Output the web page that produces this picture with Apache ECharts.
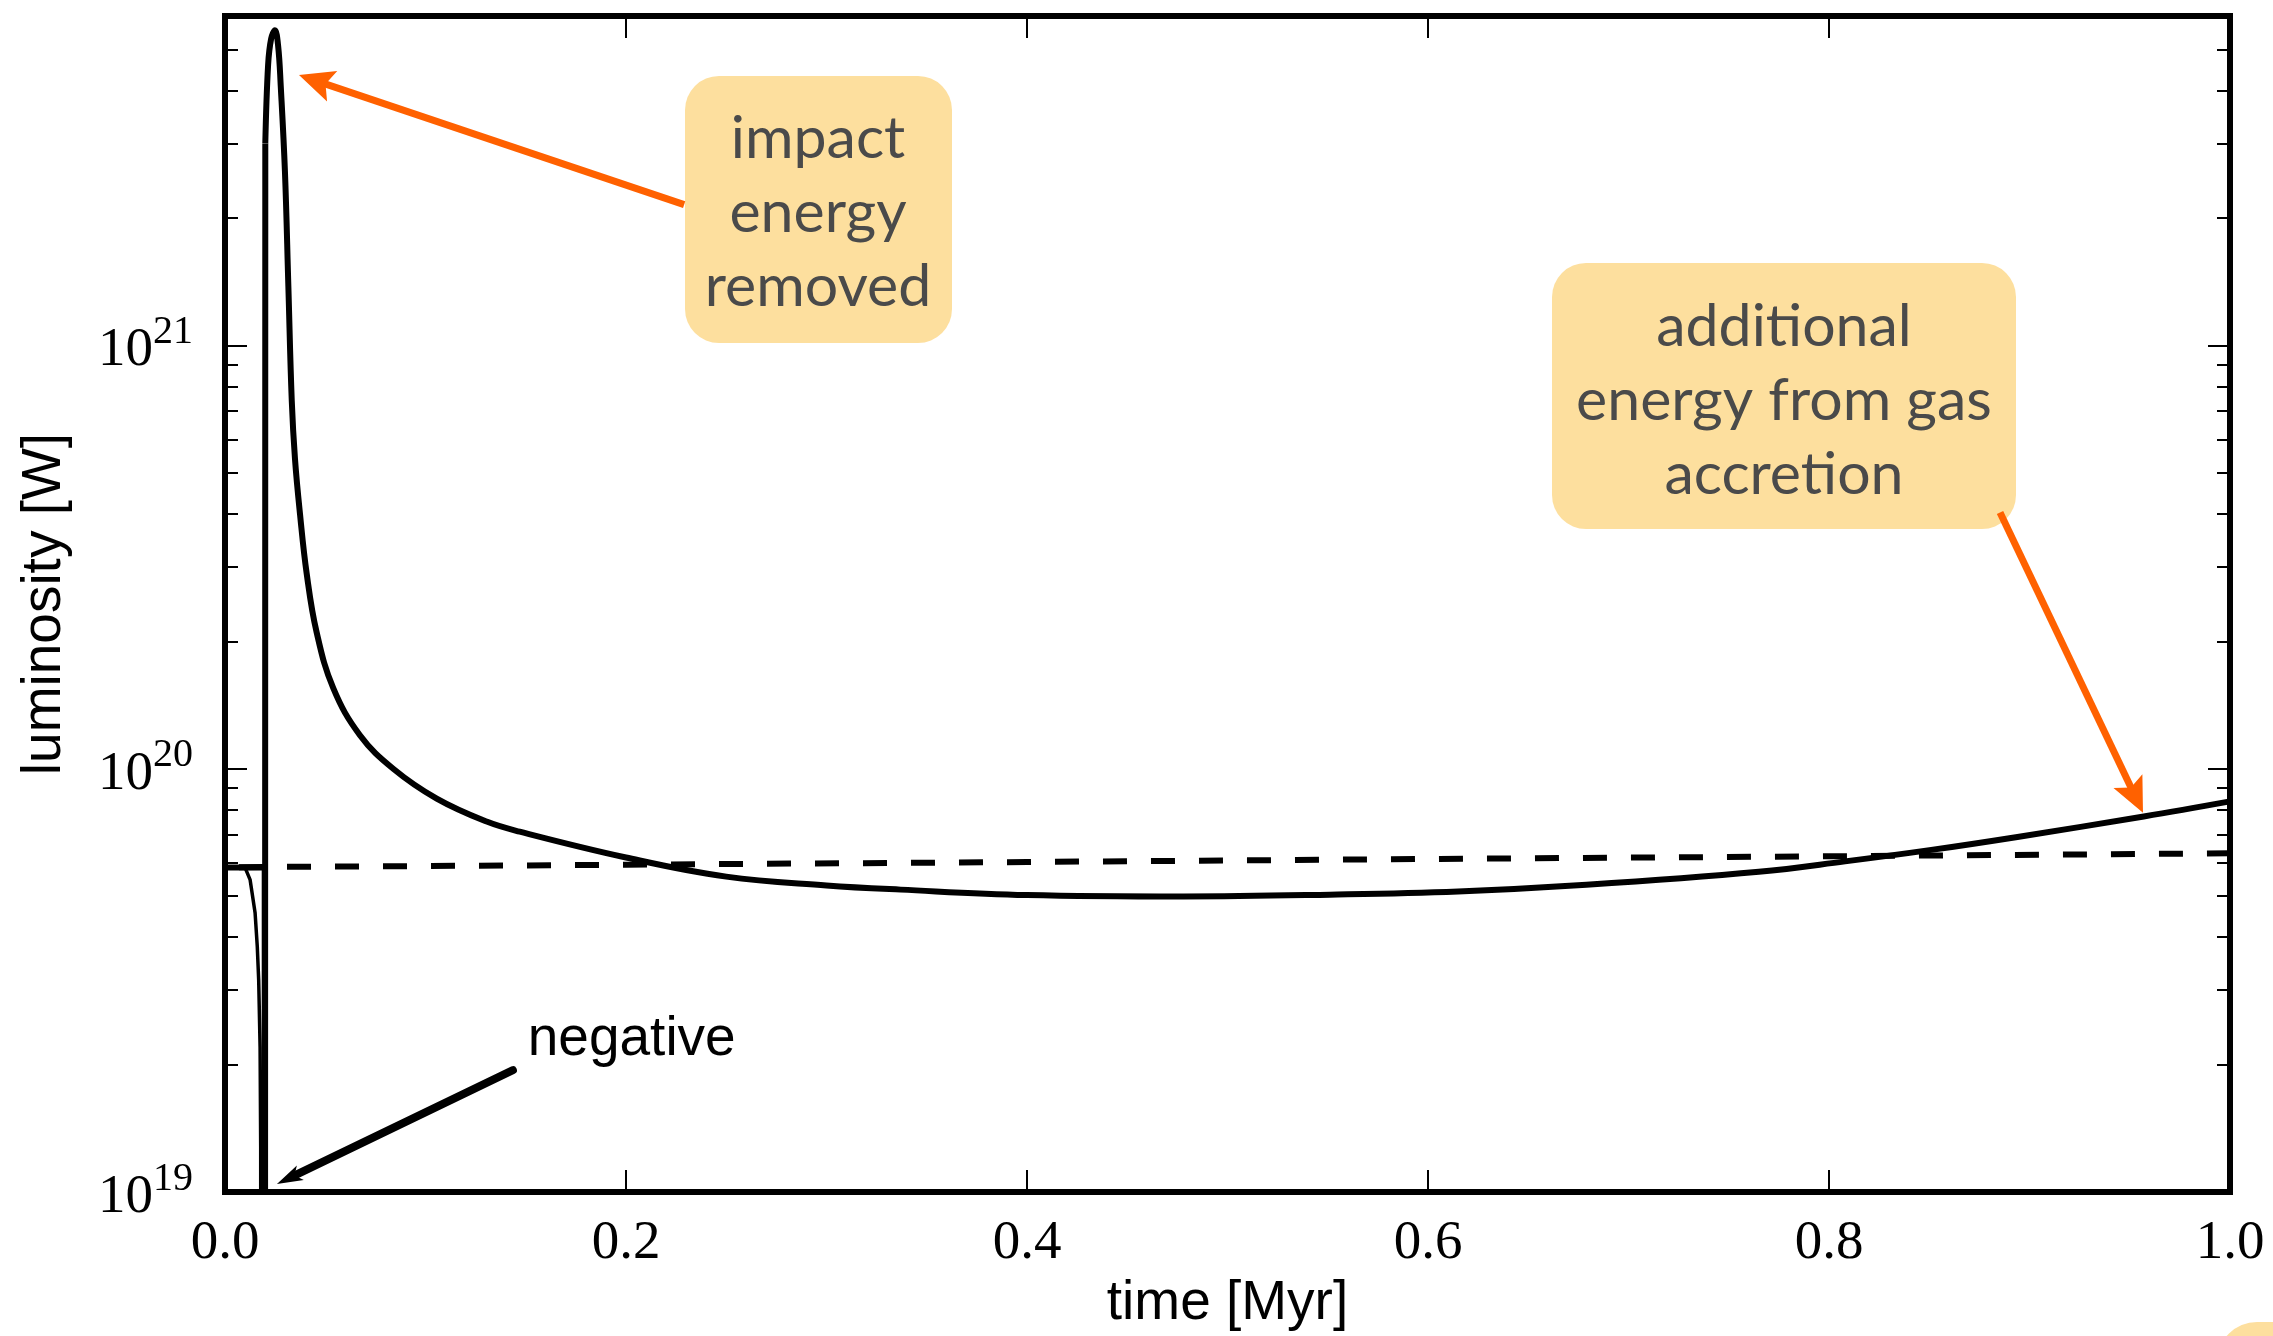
<!DOCTYPE html>
<html>
<head>
<meta charset="utf-8">
<style>
  html, body { margin: 0; padding: 0; background: #fff; }
  #chart { width: 2273px; height: 1336px; }
</style>
<script src="https://cdn.jsdelivr.net/npm/echarts@6/dist/echarts.min.js"></script>
</head>
<body>
<div id="chart"></div>
<script>
// Luminosity of the planet over the first Myr (log scale).
// Values below zero cannot be shown on a log axis; they are plotted at a
// floor under the axis minimum so the line drops off the bottom of the plot.
const NEG = 1e17;

// Main run before the impact: flat, then a dip below zero and the jump up
const tPre = [0, 0.010, 0.0198, 0.0199, 0.0201];
const lPre = [5.84e19, 5.84e19, 5.84e19, NEG, 3.0e21];

// Main run after the impact: spike, decay, then slow rise from gas accretion
const tPost = [0.0201, 0.0215, 0.0230, 0.0249, 0.0265, 0.0278,
  0.0299, 0.0316, 0.0333, 0.0349, 0.0374, 0.0407, 0.0457, 0.054, 0.0673, 0.0839,
  0.1056, 0.1305, 0.147, 0.2, 0.25, 0.3, 0.337, 0.4, 0.478, 0.551,
  0.615, 0.679, 0.765, 0.808, 0.851, 0.894, 0.957, 1.0];
const lPost = [3.0e21, 4.6e21, 5.3e21, 5.55e21, 5.1e21, 4.1e21,
  2.57e21, 1.38e21, 7.4e20, 5.4e20, 4.0e20, 2.9e20, 2.1e20, 1.55e20, 1.2e20, 1.0e20,
  8.5e19, 7.5e19, 7.1e19, 6.17e19, 5.56e19, 5.3e19, 5.18e19, 5.03e19, 4.99e19, 5.04e19,
  5.13e19, 5.32e19, 5.71e19, 6.04e19, 6.43e19, 6.90e19, 7.71e19, 8.37e19];

// Thin line: luminosity dropping below zero just before the impact
const tThin = [0, 0.0100, 0.0125, 0.0150, 0.0161, 0.0168, 0.0175, 0.0178, 0.0180];
const lThin = [5.84e19, 5.84e19, 5.47e19, 4.57e19, 3.80e19, 3.17e19, 2.20e19, 1.28e19, NEG];

// Dashed reference run
const tDash = [0, 0.2, 0.4, 0.6, 0.8, 1.0];
const lDash = [5.85e19, 5.93e19, 6.02e19, 6.12e19, 6.21e19, 6.31e19];

// Axis ticks
const xTicks = [0, 0.2, 0.4, 0.6, 0.8, 1.0];
const yMajor = [1e19, 1e20, 1e21];
const yMinor = [2e19, 3e19, 4e19, 5e19, 6e19, 7e19, 8e19, 9e19,
  2e20, 3e20, 4e20, 5e20, 6e20, 7e20, 8e20, 9e20,
  2e21, 3e21, 4e21, 5e21];

// Annotation anchors in data space: [time, luminosity]
const impactArrow = [[0.229, 2.15e21], [0.0369, 4.35e21]];
const accretionArrow = [[0.8853, 4.03e20], [0.9566, 7.87e19]];
const negativeArrow = [[0.1436, 1.94e19], [0.0259, 1.044e19]];
const negativeLabelAt = [0.151, 2.29e19];

const zip = (a, b) => a.map((v, i) => [v, b[i]]);

const SERIF = '"Liberation Serif", "DejaVu Serif", serif';
const SANS = '"Liberation Sans", Arial, sans-serif';
const BOXFONT = 'Lato, "Open Sans", sans-serif';
const ORANGE = '#ff6100';
const BOXFILL = '#fddf9e';
const BOXTEXT = '#4a4a4a';

const chart = echarts.init(document.getElementById('chart'), null, { renderer: 'canvas' });

const yBase = {
  type: 'log', logBase: 10, min: 1e19, max: 6e21,
  axisLine: { show: false }, splitLine: { show: false }, minorTick: { show: false }
};
const tickStyle = { color: '#000', width: 2 };
const mainLine = { color: '#000', width: 6, join: 'round' };

const option = {
  animation: false,
  backgroundColor: '#fff',
  grid: {
    left: 225, right: 43, top: 16, bottom: 144,
    show: true, borderColor: '#000', borderWidth: 6, backgroundColor: 'transparent',
    outerBoundsMode: 'none', containLabel: false
  },
  xAxis: [
    {
      type: 'value', min: 0, max: 1, interval: 0.2, position: 'bottom',
      axisLine: { show: false }, splitLine: { show: false },
      axisTick: { show: true, inside: true, length: 22, lineStyle: tickStyle },
      axisLabel: {
        show: true, margin: 24, color: '#000', fontFamily: SERIF, fontSize: 55,
        formatter: v => v.toFixed(1), showMinLabel: true, showMaxLabel: true
      },
      name: 'time [Myr]', nameLocation: 'middle', nameGap: 78,
      nameTextStyle: { fontFamily: SANS, fontSize: 55, color: '#000' }
    },
    {
      type: 'value', min: 0, max: 1, interval: 0.2, position: 'top',
      axisLine: { show: false }, splitLine: { show: false },
      axisTick: { show: true, inside: true, length: 22, lineStyle: tickStyle },
      axisLabel: { show: false }
    }
  ],
  yAxis: [
    Object.assign({}, yBase, {
      position: 'left',
      axisTick: { show: true, inside: true, length: 22, lineStyle: tickStyle, customValues: yMajor },
      axisLabel: {
        show: true, margin: 32, customValues: yMajor,
        formatter: v => '{b|10}{s|' + Math.round(Math.log10(v)) + '}',
        rich: {
          b: { fontFamily: SERIF, fontSize: 55, color: '#000', lineHeight: 66, verticalAlign: 'bottom' },
          s: { fontFamily: SERIF, fontSize: 40, color: '#000', lineHeight: 40, verticalAlign: 'top' }
        }
      },
      name: 'luminosity [W]', nameLocation: 'middle', nameGap: 153, nameRotate: 90,
      nameTextStyle: { fontFamily: SANS, fontSize: 55, color: '#000' }
    }),
    Object.assign({}, yBase, {
      position: 'left',
      axisTick: { show: true, inside: true, length: 13, lineStyle: tickStyle, customValues: yMinor },
      axisLabel: { show: false }
    }),
    Object.assign({}, yBase, {
      position: 'right',
      axisTick: { show: true, inside: true, length: 22, lineStyle: tickStyle, customValues: yMajor },
      axisLabel: { show: false }
    }),
    Object.assign({}, yBase, {
      position: 'right',
      axisTick: { show: true, inside: true, length: 13, lineStyle: tickStyle, customValues: yMinor },
      axisLabel: { show: false }
    })
  ],
  series: [
    {
      name: 'reference', type: 'line', xAxisIndex: 0, yAxisIndex: 0,
      data: zip(tDash, lDash), showSymbol: false, symbol: 'none', clip: true,
      lineStyle: { color: '#000', width: 6, type: [24, 24], dashOffset: 34 },
      z: 3
    },
    {
      name: 'drop', type: 'line', xAxisIndex: 0, yAxisIndex: 0,
      data: zip(tThin, lThin), showSymbol: false, symbol: 'none', clip: true,
      lineStyle: { color: '#000', width: 3.5 },
      z: 4
    },
    {
      name: 'luminosity (before impact)', type: 'line', xAxisIndex: 0, yAxisIndex: 0,
      data: zip(tPre, lPre), showSymbol: false, symbol: 'none', clip: true,
      lineStyle: mainLine,
      z: 5
    },
    {
      name: 'luminosity', type: 'line', xAxisIndex: 0, yAxisIndex: 0,
      data: zip(tPost, lPost), showSymbol: false, symbol: 'none', clip: true,
      smooth: 0.4,
      lineStyle: mainLine,
      z: 5
    }
  ]
};

chart.setOption(option);

// Arrow built from a shaft and a notched head, between two pixel points
function arrow(p0, p1, color, w, headLen, headHalf, notch, cap) {
  const dx = p1[0] - p0[0], dy = p1[1] - p0[1];
  const L = Math.hypot(dx, dy);
  const ux = dx / L, uy = dy / L, px = -uy, py = ux;
  const base = [p1[0] - ux * headLen, p1[1] - uy * headLen];
  const nb = [p1[0] - ux * headLen * (1 - notch), p1[1] - uy * headLen * (1 - notch)];
  return [
    { type: 'line', z: 50, shape: { x1: p0[0], y1: p0[1], x2: nb[0] + ux * 2, y2: nb[1] + uy * 2 },
      style: { stroke: color, lineWidth: w, lineCap: cap || 'butt' } },
    { type: 'polygon', z: 51, shape: { points: [p1, [base[0] + px * headHalf, base[1] + py * headHalf], nb,
      [base[0] - px * headHalf, base[1] - py * headHalf]] }, style: { fill: color } }
  ];
}

const toPx = p => chart.convertToPixel({ gridIndex: 0 }, p);

const g = [];
// annotation boxes
g.push({ type: 'rect', z: 40, shape: { x: 685, y: 76, width: 267, height: 267, r: 34 }, style: { fill: BOXFILL } });
g.push({ type: 'text', z: 41, x: 818, y: 213, style: {
  text: 'impact\nenergy\nremoved', fontFamily: BOXFONT, fontSize: 59, lineHeight: 74,
  fill: BOXTEXT, align: 'center', verticalAlign: 'middle' } });
g.push({ type: 'rect', z: 40, shape: { x: 1552, y: 263, width: 464, height: 266, r: 34 }, style: { fill: BOXFILL } });
g.push({ type: 'text', z: 41, x: 1784, y: 401, style: {
  text: 'additional\nenergy from gas\naccretion', fontFamily: BOXFONT, fontSize: 59, lineHeight: 74,
  fill: BOXTEXT, align: 'center', verticalAlign: 'middle' } });
// corner of a further box at the page edge
g.push({ type: 'rect', z: 40, shape: { x: 2217, y: 1322, width: 140, height: 120, r: 40 }, style: { fill: BOXFILL } });

// arrows
g.push(...arrow(toPx(impactArrow[0]), toPx(impactArrow[1]), ORANGE, 7, 35, 16, 0.2));
g.push(...arrow(toPx(accretionArrow[0]), toPx(accretionArrow[1]), ORANGE, 7, 35, 16, 0.2));
g.push(...arrow(toPx(negativeArrow[0]), toPx(negativeArrow[1]), '#000', 8, 26, 8, 0.25, 'round'));

// "negative" label
const nl = toPx(negativeLabelAt);
g.push({ type: 'text', z: 41, x: nl[0], y: nl[1], style: {
  text: 'negative', fontFamily: SANS, fontSize: 55, fill: '#000', align: 'left', verticalAlign: 'middle' } });

chart.setOption({ graphic: g });
</script>
</body>
</html>
